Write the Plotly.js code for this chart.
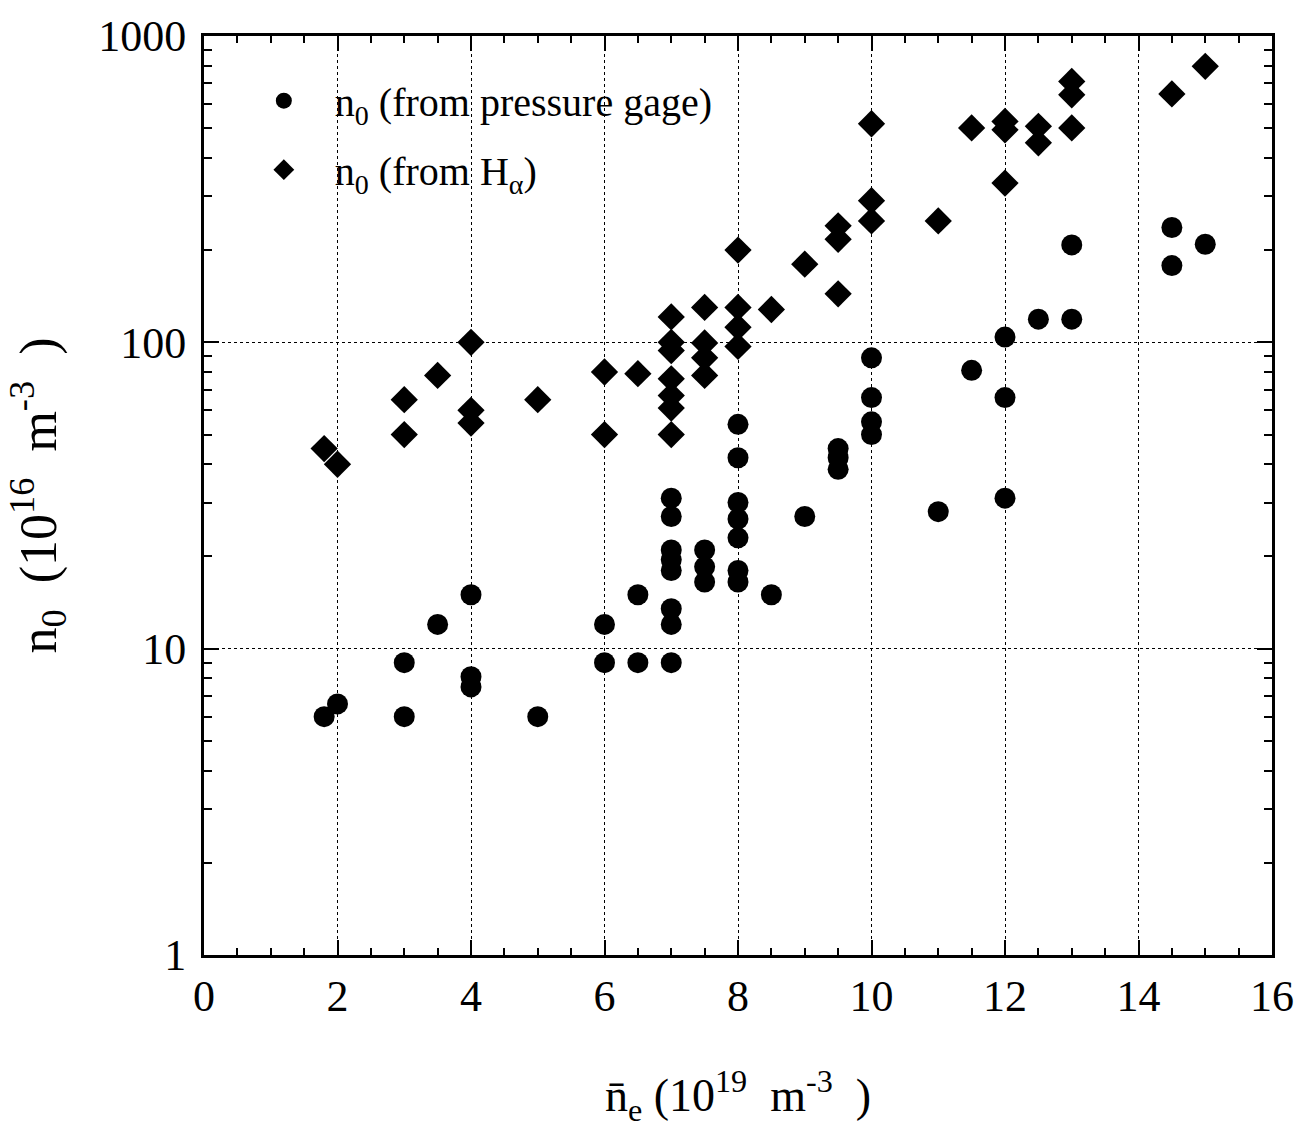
<!DOCTYPE html>
<html>
<head>
<meta charset="utf-8">
<script src="https://cdn.plot.ly/plotly-3.0.1.min.js"></script>
<style>html,body{margin:0;padding:0;background:#fff;}#chart{width:1312px;height:1135px;}</style>
</head>
<body>
<div id="chart"></div>
<script>
// n0 from pressure gage (circles)
const gageX = [1.8, 2, 3, 3, 3.5, 4, 4, 4, 5, 6, 6, 6.5, 6.5,
  7, 7, 7, 7, 7, 7, 7, 7, 7.5, 7.5, 7.5,
  8, 8, 8, 8, 8, 8, 8, 8.5, 9, 9.5, 9.5, 9.5,
  10, 10, 10, 10, 11, 11.5, 12, 12, 12, 12.5, 13, 13, 14.5, 14.5, 15];
const gageY = [6.0, 6.6, 9, 6, 12, 15, 8.1, 7.5, 6, 12, 9, 15, 9,
  31, 27, 21, 19.5, 18, 13.5, 12, 9, 21, 18.5, 16.5,
  54, 42, 30, 26.5, 23, 18, 16.5, 15, 27, 45, 42, 38.5,
  89, 66, 55, 50, 28, 81, 104, 66, 31, 119, 208, 119, 237, 178, 209];
// n0 from H-alpha (diamonds)
const haX = [1.8, 2, 3, 3, 3.5, 4, 4, 4, 5, 6, 6, 6.5,
  7, 7, 7, 7, 7, 7, 7, 7.5, 7.5, 7.5, 7.5,
  8, 8, 8, 8, 8.5, 9, 9.5, 9.5, 9.5, 10, 10, 10, 11, 11.5,
  12, 12, 12, 12.5, 12.5, 13, 13, 13, 14.5, 15];
const haY = [45, 40, 65, 50, 78, 100, 60, 54.5, 65, 80, 50, 79,
  121, 100, 94, 76, 67, 61, 50, 130, 99.5, 89, 78,
  200, 130, 112, 97, 128, 180, 240, 217, 144, 517, 290, 249, 249, 501,
  526, 494, 331, 507, 448, 711, 643, 501, 647, 796];

const xTickVals = [0, 2, 4, 6, 8, 10, 12, 14, 16];
const yTickVals = [1, 10, 100, 1000];

const FONT = "Liberation Serif, Times New Roman, serif";

const traces = [
  {x: gageX, y: gageY, type: 'scatter', mode: 'markers', legendgroup: 'g1',
   name: 'n<sub>0</sub> (from pressure gage)',
   marker: {symbol: 'circle', size: 21, color: '#000'}},
  {x: haX, y: haY, type: 'scatter', mode: 'markers', legendgroup: 'g2',
   name: 'n<sub>0</sub> (from H<sub>α</sub>)',
   marker: {symbol: 'diamond', size: 21, color: '#000'}}
];

const axisCommon = {
  showline: true, linecolor: '#000', linewidth: 3, mirror: 'ticks',
  ticks: 'inside', tickcolor: '#000', tickwidth: 2, ticklen: 15,
  showgrid: true, gridcolor: '#000', gridwidth: 1, griddash: 'dot',
  zeroline: false,
  tickfont: {family: FONT, size: 44, color: '#000'}
};

const layout = {
  width: 1312, height: 1135,
  margin: {l: 204, r: 40, t: 36, b: 180},
  paper_bgcolor: '#fff', plot_bgcolor: '#fff',
  showlegend: true,
  legend: {x: 0.027, y: 0.965, xanchor: 'left', yanchor: 'top',
    bgcolor: 'rgba(0,0,0,0)', font: {family: FONT, size: 40, color: '#000'},
    itemsizing: 'trace', itemwidth: 92, tracegroupgap: 14},
  xaxis: Object.assign({}, axisCommon, {
    range: [0, 16], tickvals: xTickVals, ticktext: xTickVals.map(String),
    minor: {dtick: 0.5, tick0: 0, ticks: 'inside', ticklen: 7, tickwidth: 2, tickcolor: '#000', showgrid: false},
    title: {text: 'n\u0304<sub>e</sub> (10<sup>19</sup>  m<sup>-3</sup>  )', font: {family: FONT, size: 46, color: '#000'}, standoff: 60}
  }),
  yaxis: Object.assign({}, axisCommon, {
    type: 'log', range: [0, 3], tickvals: yTickVals, ticktext: yTickVals.map(String),
    ticklabelstandoff: 6,
    minor: {dtick: 'D1', ticks: 'inside', ticklen: 8, tickwidth: 2, tickcolor: '#000', showgrid: false},
    title: {text: 'n<sub>0</sub>  (10<sup>16</sup>  m<sup>-3</sup>  )', font: {family: FONT, size: 52, color: '#000'}, standoff: 26}
  })
};

Plotly.newPlot('chart', traces, layout, {displayModeBar: false, staticPlot: true});
</script>
</body>
</html>
